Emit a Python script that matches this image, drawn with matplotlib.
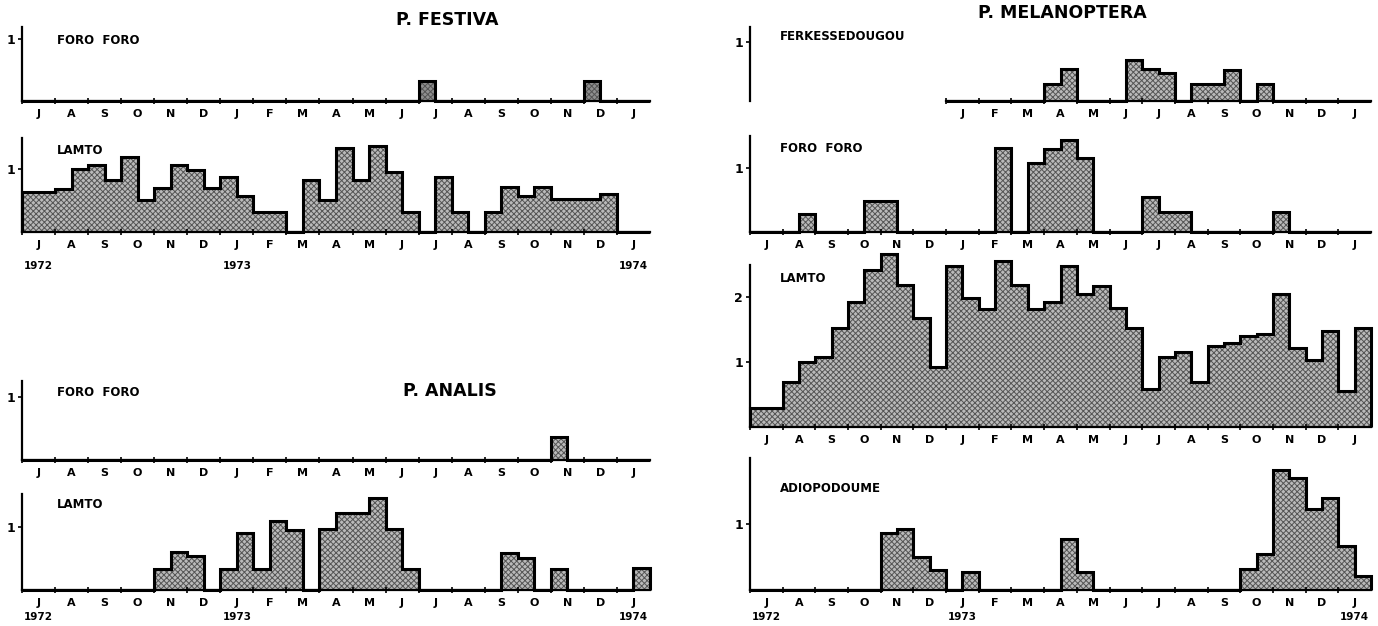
import numpy as np
import matplotlib
matplotlib.use('Agg')
import matplotlib.pyplot as plt

plt.rcParams['font.family'] = ['DejaVu Sans']
plt.rcParams['hatch.linewidth'] = 0.7

# half-month slots, July 1972 .. January 1974 (38 slots)
months = ['J', 'A', 'S', 'O', 'N', 'D', 'J', 'F', 'M', 'A', 'M', 'J',
          'J', 'A', 'S', 'O', 'N', 'D', 'J']
years = ['1972', '1973', '1974']
year_months = [0, 6, 18]

festiva_foro = [0, 0, 0, 0, 0, 0, 0, 0, 0, 0, 0, 0, 0, 0, 0, 0, 0, 0, 0,
                0, 0, 0, 0, 0, 0.32, 0, 0, 0, 0, 0, 0, 0, 0, 0, 0.32, 0, 0, 0]
festiva_lamto = [0.64, 0.64, 0.69, 1.0, 1.06, 0.82, 1.19, 0.5, 0.7, 1.06,
                 0.98, 0.7, 0.88, 0.57, 0.32, 0.32, 0, 0.83, 0.5, 1.34,
                 0.82, 1.37, 0.96, 0.32, 0, 0.88, 0.32, 0, 0.32, 0.71,
                 0.57, 0.71, 0.52, 0.52, 0.52, 0.6, 0, 0]
analis_foro = [0, 0, 0, 0, 0, 0, 0, 0, 0, 0, 0, 0, 0, 0, 0, 0, 0, 0, 0,
               0, 0, 0, 0, 0, 0, 0, 0, 0, 0, 0, 0, 0, 0.36, 0, 0, 0, 0, 0]
analis_lamto = [0, 0, 0, 0, 0, 0, 0, 0, 0.33, 0.6, 0.54, 0, 0.33, 0.9,
                0.34, 1.09, 0.96, 0, 0.97, 1.23, 1.23, 1.46, 0.97, 0.33,
                0, 0, 0, 0, 0, 0.59, 0.51, 0, 0.34, 0, 0, 0, 0, 0.35]
# Ferkessedougou starts in January 1973 (slot 12)
mel_ferke = [0, 0, 0, 0, 0, 0, 0.29, 0.55, 0, 0, 0, 0.69, 0.54, 0.47,
             0, 0.28, 0.28, 0.52, 0, 0.28, 0, 0, 0, 0, 0, 0]
mel_foro = [0, 0, 0, 0.28, 0, 0, 0, 0.49, 0.49, 0, 0, 0, 0, 0, 0, 1.31,
            0, 1.08, 1.30, 1.43, 1.15, 0, 0, 0, 0.54, 0.31, 0.31, 0, 0,
            0, 0, 0, 0.31, 0, 0, 0, 0, 0]
mel_lamto = [0.3, 0.3, 0.69, 1.0, 1.07, 1.52, 1.92, 2.41, 2.66, 2.19, 1.67,
             0.93, 2.47, 1.99, 1.81, 2.55, 2.19, 1.81, 1.92, 2.47, 2.05,
             2.17, 1.83, 1.52, 0.59, 1.08, 1.16, 0.7, 1.24, 1.3, 1.4, 1.43,
             2.05, 1.21, 1.03, 1.47, 0.55, 1.53]
mel_adio = [0, 0, 0, 0, 0, 0, 0, 0, 0.86, 0.92, 0.5, 0.31, 0, 0.27, 0, 0,
            0, 0, 0, 0.78, 0.27, 0, 0, 0, 0, 0, 0, 0, 0, 0, 0.32, 0.55,
            1.82, 1.70, 1.23, 1.39, 0.67, 0.21]

W, H = 1378, 626
fig = plt.figure(figsize=(W / 100, H / 100), dpi=100)


def panel(x0, x1, baseline, unit, ytop, vals, start=0, yticks=(1,),
          spine_top=None, dark=False):
    ax = fig.add_axes([x0 / W, 1 - baseline / H, (x1 - x0) / W, ytop * unit / H])
    edges = np.arange(start, start + len(vals) + 1) / 2
    ax.stairs(vals, edges, fill=True, facecolor='#8f8f8f' if dark else '#bababa',
              edgecolor='#555555', hatch='xxxxxx', linewidth=0)
    ax.stairs(vals, edges, color='black', linewidth=2.2, clip_on=False)
    ax.set_xlim(0, 19)
    ax.set_ylim(0, ytop)
    for s in ['top', 'right']:
        ax.spines[s].set_visible(False)
    ax.spines['left'].set_linewidth(1.6)
    ax.spines['bottom'].set_linewidth(1.6)
    ax.spines['left'].set_bounds(0, spine_top if spine_top else ytop)
    m0 = start // 2
    ax.spines['bottom'].set_bounds(m0, 19)
    ax.set_xticks(np.arange(m0, 19))
    ax.set_xticklabels([])
    ax.set_xticks(np.arange(m0, 19) + 0.5, minor=True)
    ax.set_xticklabels(months[m0:], minor=True, fontsize=8, fontweight='bold')
    ax.tick_params(axis='x', which='major', direction='inout', length=5, width=1.2)
    ax.tick_params(axis='x', which='minor', length=0, pad=6)
    ax.set_yticks(yticks)
    ax.set_yticklabels([str(t) for t in yticks], fontsize=9, fontweight='bold')
    ax.tick_params(axis='y', direction='out', length=3, width=1.2, pad=2)
    ax.patch.set_visible(False)
    return ax


def ftext(x, y, s, size=9, **kw):
    fig.text(x / W, 1 - y / H, s, fontsize=size, fontweight='bold', va='center', **kw)


lx0, lx1 = 22, 650
rx0, rx1 = 750, 1371

# left column
panel(lx0, lx1, 101, 62, 1.2, festiva_foro, dark=True)
panel(lx0, lx1, 232, 63, 1.5, festiva_lamto)
panel(lx0, lx1, 460, 63, 1.25, analis_foro)
panel(lx0, lx1, 590, 63, 1.52, analis_lamto)

# right column
panel(rx0, rx1, 101, 59, 1.25, mel_ferke, start=12)
panel(rx0, rx1, 232, 64, 1.5, mel_foro)
panel(rx0, rx1, 427, 65, 2.75, mel_lamto, yticks=(1, 2), spine_top=2.5)
panel(rx0, rx1, 590, 66, 2.0, mel_adio)

# year labels under the bottom panels
for x0, x1, ypos in [(lx0, lx1, 266), (lx0, lx1, 617), (rx0, rx1, 617)]:
    for yl, ym in zip(years, year_months):
        ftext(x0 + (ym + 0.5) * (x1 - x0) / 19, ypos, yl, size=7.5, ha='center')

ftext(447, 20, 'P. FESTIVA', size=12.5, ha='center')
ftext(450, 391, 'P. ANALIS', size=12.5, ha='center')
ftext(1062, 13, 'P. MELANOPTERA', size=12.5, ha='center')

ftext(57, 40, 'FORO  FORO', size=8.5)
ftext(57, 150, 'LAMTO', size=8.5)
ftext(57, 393, 'FORO  FORO', size=8.5)
ftext(57, 504, 'LAMTO', size=8.5)
ftext(780, 36, 'FERKESSEDOUGOU', size=8.5)
ftext(780, 148, 'FORO  FORO', size=8.5)
ftext(780, 278, 'LAMTO', size=8.5)
ftext(780, 489, 'ADIOPODOUME', size=8.5)

fig.savefig('out.png', dpi=100)
